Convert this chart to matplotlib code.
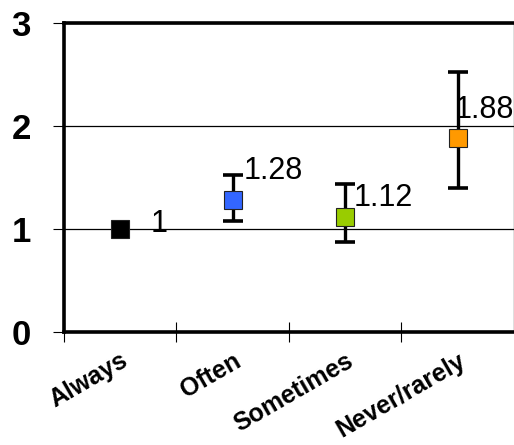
import numpy as np
import matplotlib.pyplot as plt
from matplotlib.ticker import FixedLocator

plt.rcParams['font.family'] = ['Liberation Sans', 'DejaVu Sans']

# datos
categorias = ['Always', 'Often', 'Sometimes', 'Never/rarely']
valores = [1.0, 1.28, 1.12, 1.88]
inferior = [1.0, 1.08, 0.87, 1.40]
superior = [1.0, 1.52, 1.44, 2.53]
colores = ['#000000', '#3366ff', '#99cc00', '#ff9900']
etiquetas = ['1', '1.28', '1.12', '1.88']
# desplazamiento de las etiquetas (en puntos)
despl = [(22, -7), (8, 10), (6, 3), (-2, 10)]

fig = plt.figure(figsize=(5.14, 4.45), dpi=100)
ax = fig.add_axes([0.1245, 0.254, 0.875, 0.694])

x = np.arange(len(categorias))
for i in x:
    if superior[i] > inferior[i]:
        ax.errorbar(x[i], valores[i],
                    yerr=[[valores[i] - inferior[i]], [superior[i] - valores[i]]],
                    fmt='none', ecolor='black', elinewidth=2.4,
                    capsize=7.5, capthick=2.6, zorder=3)
    ax.plot(x[i], valores[i], marker='s', markersize=13.5, color=colores[i],
            markeredgecolor='#222222', markeredgewidth=0.8, linestyle='none', zorder=4)
    ax.annotate(etiquetas[i], (x[i], valores[i]), xytext=despl[i],
                textcoords='offset points', fontsize=22, va='bottom', ha='left',
                zorder=5, annotation_clip=False)

ax.set_xlim(-0.5, 3.5)
ax.set_ylim(0, 3)
ax.set_yticks([0, 1, 2, 3])
ax.set_yticklabels(['0', '1', '2', '3'], fontsize=25, fontweight='bold')
ax.tick_params(axis='y', length=8, width=0.8, pad=16)

ax.xaxis.set_major_locator(FixedLocator([-0.5, 0.5, 1.5, 2.5]))
ax.xaxis.set_minor_locator(FixedLocator(list(x)))
ax.set_xticklabels([])
ax.set_xticklabels(categorias, minor=True, rotation=30, ha='right',
                   rotation_mode='anchor', fontsize=18, fontweight='bold')
ax.tick_params(axis='x', which='major', direction='inout', length=14, width=0.8)
ax.tick_params(axis='x', which='minor', length=0, pad=12)

ax.grid(axis='y', color='black', linewidth=0.9)
ax.set_axisbelow(True)
for lado in ['left', 'top', 'bottom']:
    ax.spines[lado].set_linewidth(2.6)
ax.spines['right'].set_linewidth(0.9)

fig.savefig('out.png', dpi=100)
